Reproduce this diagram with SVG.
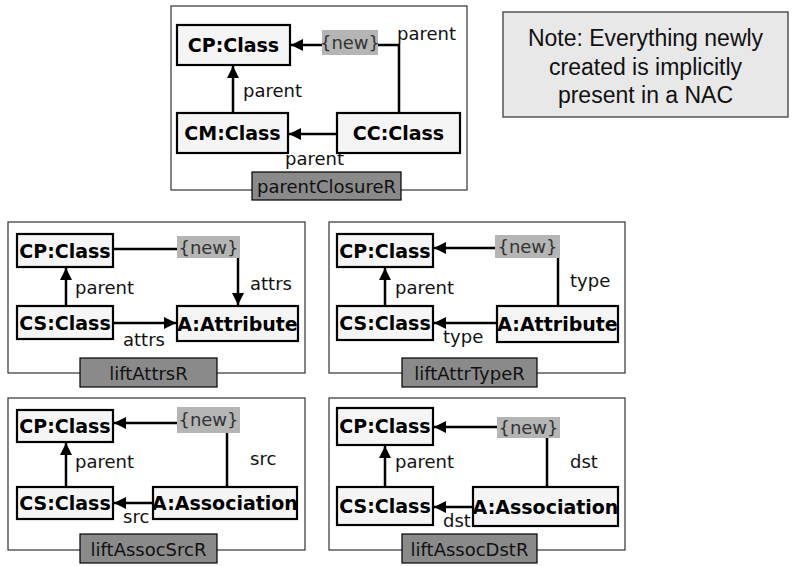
<svg xmlns="http://www.w3.org/2000/svg" width="794" height="566" viewBox="0 0 794 566">
  <defs>
    <marker id="arrow" markerUnits="userSpaceOnUse" markerWidth="14" markerHeight="12" refX="12" refY="6" orient="auto">
      <path d="M0,0 L12,6 L0,12 Z" fill="#000"/>
    </marker>
    <style>
      .frame { fill: #fff; stroke: #333; stroke-width: 1.2; }
      .node rect { fill: #f5f5f5; stroke: #000; stroke-width: 2.2; }
      .node text { font-family: "DejaVu Sans", Verdana, sans-serif; font-weight: bold; font-size: 19px; fill: #000; stroke: none; text-anchor: middle; }
      .newbox { fill: #b5b5b5; stroke: none; }
      .newtext { font-family: "DejaVu Sans", Verdana, sans-serif; font-size: 18px; fill: #333; text-anchor: middle; }
      .title { fill: #8a8a8a; stroke: #000; stroke-width: 1.2; }
      .ttext { font-family: "DejaVu Sans", Verdana, sans-serif; font-size: 18px; fill: #111; text-anchor: middle; }
      .lbl { font-family: "DejaVu Sans", Verdana, sans-serif; font-size: 18px; fill: #111; }
      .edge { stroke: #000; stroke-width: 2.5; fill: none; }
      .arr { marker-end: url(#arrow); }
      .note { fill: #e8e8e8; stroke: #555; stroke-width: 1.5; }
      .notetext { font-family: "Liberation Sans", Arial, sans-serif; font-size: 23px; fill: #111; text-anchor: middle; }
    </style>
  </defs>

  <!-- rule frames with their name tags -->
  <g id="frames">
    <rect class="frame" x="171" y="6" width="296" height="184"/>
    <rect class="frame" x="8" y="222" width="297" height="151"/>
    <rect class="frame" x="329" y="222" width="296" height="151"/>
    <rect class="frame" x="8" y="398" width="297" height="152"/>
    <rect class="frame" x="329" y="398" width="296" height="152"/>
  </g>

  <!-- connectors -->
  <g id="connectors">
    <!-- parentClosureR -->
    <line class="edge arr" x1="322" y1="45" x2="291" y2="45"/>
    <polyline class="edge" points="378,45 399,45 399,113"/>
    <line class="edge arr" x1="233" y1="113" x2="233" y2="66"/>
    <line class="edge arr" x1="337" y1="134" x2="289" y2="134"/>
    <!-- liftAttrsR -->
    <line class="edge" x1="113" y1="249" x2="177" y2="249"/>
    <line class="edge arr" x1="238" y1="258" x2="238" y2="305"/>
    <line class="edge arr" x1="66" y1="306" x2="66" y2="268"/>
    <line class="edge arr" x1="113" y1="323" x2="176" y2="323"/>
    <!-- liftAttrTypeR -->
    <line class="edge arr" x1="495" y1="248" x2="434" y2="248"/>
    <line class="edge" x1="558" y1="258" x2="558" y2="307"/>
    <line class="edge arr" x1="385" y1="306" x2="385" y2="268"/>
    <line class="edge arr" x1="497" y1="323" x2="434" y2="323"/>
    <!-- liftAssocSrcR -->
    <line class="edge arr" x1="177" y1="423" x2="114" y2="423"/>
    <line class="edge" x1="227" y1="433" x2="227" y2="487"/>
    <line class="edge arr" x1="66" y1="487" x2="66" y2="443"/>
    <line class="edge arr" x1="153" y1="503" x2="114" y2="503"/>
    <!-- liftAssocDstR -->
    <line class="edge arr" x1="497" y1="427" x2="434" y2="427"/>
    <line class="edge" x1="547" y1="438" x2="547" y2="487"/>
    <line class="edge arr" x1="385" y1="487" x2="385" y2="446"/>
    <line class="edge arr" x1="473" y1="507" x2="434" y2="507"/>
  </g>

  <!-- edge labels -->
  <g id="edge-labels">
    <text class="lbl" x="397" y="40">parent</text>
    <text class="lbl" x="243" y="97">parent</text>
    <text class="lbl" x="285" y="165">parent</text>

    <text class="lbl" x="250" y="290">attrs</text>
    <text class="lbl" x="75" y="294">parent</text>
    <text class="lbl" x="123" y="346">attrs</text>

    <text class="lbl" x="570" y="287">type</text>
    <text class="lbl" x="395" y="294">parent</text>
    <text class="lbl" x="443" y="343">type</text>

    <text class="lbl" x="250" y="465">src</text>
    <text class="lbl" x="75" y="468">parent</text>
    <text class="lbl" x="123" y="523">src</text>

    <text class="lbl" x="570" y="468">dst</text>
    <text class="lbl" x="395" y="468">parent</text>
    <text class="lbl" x="443" y="527">dst</text>
  </g>

  <!-- parentClosureR nodes -->
  <g id="pc-cp" class="node"><rect x="177" y="25" width="113" height="40"/><text x="233.5" y="52">CP:Class</text></g>
  <g id="pc-cm" class="node"><rect x="177" y="113" width="111" height="40"/><text x="232.5" y="140">CM:Class</text></g>
  <g id="pc-cc" class="node"><rect x="337" y="113" width="123" height="40"/><text x="398.5" y="140">CC:Class</text></g>
  <g id="pc-new"><rect class="newbox" x="322" y="30" width="56" height="25"/><text class="newtext" x="350" y="49">{new}</text></g>
  <g id="pc-title"><rect class="title" x="252" y="172" width="149" height="28"/><text class="ttext" x="326.5" y="193">parentClosureR</text></g>

  <!-- liftAttrsR nodes -->
  <g id="la-cp" class="node"><rect x="17" y="234" width="96" height="33"/><text x="65" y="258">CP:Class</text></g>
  <g id="la-cs" class="node"><rect x="17" y="306" width="96" height="33"/><text x="65" y="330">CS:Class</text></g>
  <g id="la-a" class="node"><rect x="177" y="306" width="121" height="35"/><text x="237.5" y="331">A:Attribute</text></g>
  <g id="la-new"><rect class="newbox" x="177" y="236" width="63" height="22"/><text class="newtext" x="208.5" y="254">{new}</text></g>
  <g id="la-title"><rect class="title" x="80" y="358" width="137" height="29"/><text class="ttext" x="148.5" y="380">liftAttrsR</text></g>

  <!-- liftAttrTypeR nodes -->
  <g id="lt-cp" class="node"><rect x="337" y="234" width="96" height="33"/><text x="385" y="258">CP:Class</text></g>
  <g id="lt-cs" class="node"><rect x="337" y="306" width="96" height="34"/><text x="385" y="330">CS:Class</text></g>
  <g id="lt-a" class="node"><rect x="497" y="306" width="121" height="36"/><text x="557.5" y="331">A:Attribute</text></g>
  <g id="lt-new"><rect class="newbox" x="495" y="235" width="65" height="23"/><text class="newtext" x="527.5" y="253">{new}</text></g>
  <g id="lt-title"><rect class="title" x="402" y="358" width="135" height="29"/><text class="ttext" x="469.5" y="380">liftAttrTypeR</text></g>

  <!-- liftAssocSrcR nodes -->
  <g id="ls-cp" class="node"><rect x="17" y="410" width="96" height="32"/><text x="65" y="433">CP:Class</text></g>
  <g id="ls-cs" class="node"><rect x="17" y="487" width="96" height="32"/><text x="65" y="510">CS:Class</text></g>
  <g id="ls-a" class="node"><rect x="153" y="487" width="144" height="32"/><text x="225" y="510">A:Association</text></g>
  <g id="ls-new"><rect class="newbox" x="177" y="407" width="63" height="26"/><text class="newtext" x="208.5" y="426">{new}</text></g>
  <g id="ls-title"><rect class="title" x="80" y="534" width="137" height="29"/><text class="ttext" x="148.5" y="556">liftAssocSrcR</text></g>

  <!-- liftAssocDstR nodes -->
  <g id="ld-cp" class="node"><rect x="337" y="408" width="96" height="37"/><text x="385" y="433">CP:Class</text></g>
  <g id="ld-cs" class="node"><rect x="337" y="487" width="96" height="38"/><text x="385" y="513">CS:Class</text></g>
  <g id="ld-a" class="node"><rect x="473" y="487" width="145" height="39"/><text x="545.5" y="514">A:Association</text></g>
  <g id="ld-new"><rect class="newbox" x="497" y="417" width="63" height="21"/><text class="newtext" x="528.5" y="434">{new}</text></g>
  <g id="ld-title"><rect class="title" x="402" y="534" width="135" height="29"/><text class="ttext" x="469.5" y="556">liftAssocDstR</text></g>

  <!-- note -->
  <g id="note">
    <rect class="note" x="503" y="12" width="285" height="105"/>
    <text class="notetext" x="645.5" y="46">Note: Everything newly</text>
    <text class="notetext" x="645.5" y="75">created is implicitly</text>
    <text class="notetext" x="645.5" y="103">present in a NAC</text>
  </g>
</svg>
